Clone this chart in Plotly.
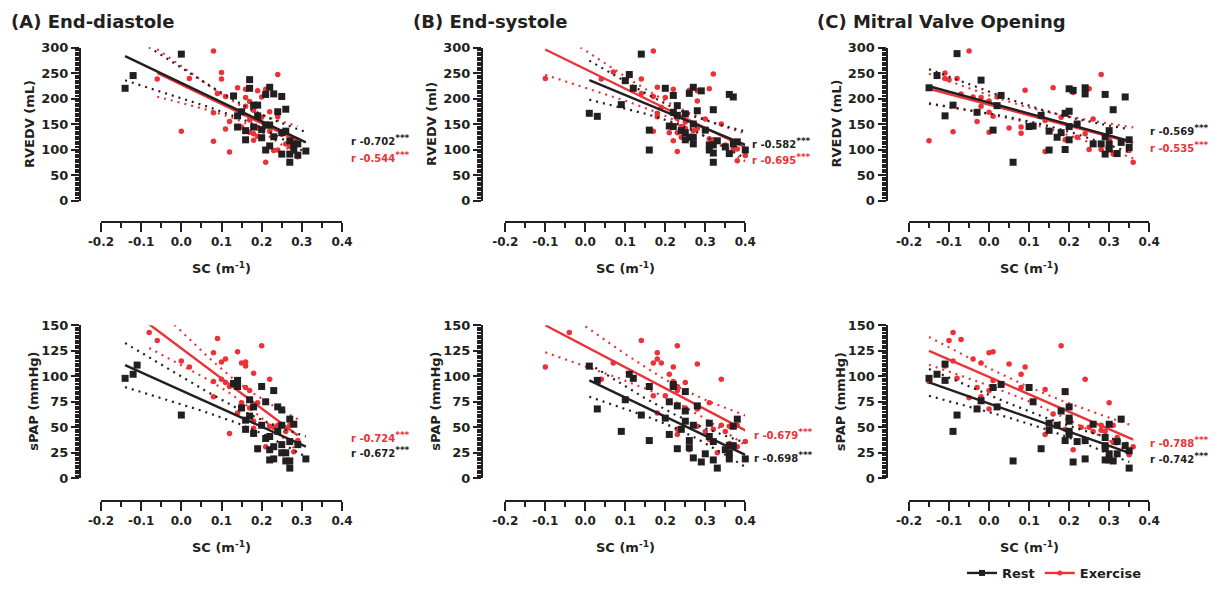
import numpy as np
import plotly.graph_objects as go

W, H = 1217, 589
PAD = 8                              # page body margin of the html page
FW, FH = W - 2 * PAD, H - 2 * PAD    # figure size that fits the window without overflow
BLACK = "#231f20"
RED = "#ec3237"
FONT = "DejaVu Sans"

# ---------------- data (x = SC in m^-1) ----------------
# (A) End-diastole
a_top_rest_x = [-0.14, -0.12, 0.0, 0.13, 0.17, 0.17, 0.22, 0.23, 0.21, 0.25, 0.18, 0.19, 0.26, 0.24, 0.19, 0.14, 0.15,
                0.14, 0.16, 0.18, 0.21, 0.20, 0.22, 0.25, 0.26, 0.16, 0.20, 0.23, 0.27, 0.29, 0.28, 0.22, 0.21, 0.25,
                0.27, 0.29, 0.31, 0.27, 0.28]
a_top_rest_y = [220, 245, 287, 205, 237, 220, 222, 209, 208, 204, 187, 187, 179, 174, 166, 166, 174,
                144, 137, 144, 148, 139, 148, 133, 136, 119, 123, 125, 117, 111, 99, 107, 99, 91,
                91, 89, 97, 75, 110]
a_top_ex_x = [0.08, -0.06, 0.02, 0.10, 0.10, 0.09, 0.14, 0.11, 0.16, 0.19, 0.21, 0.24, 0.16, 0.20, 0.17, 0.16, 0.08,
              0.18, 0.20, 0.22, 0.24, 0.17, 0.12, 0.11, 0.15, 0.17, 0.18, 0.19, 0.22, 0.18, 0.19, 0.25, 0.26, 0.23,
              0.24, 0.0, 0.08, 0.12, 0.21, 0.28, 0.29, 0.27]
a_top_ex_y = [293, 238, 239, 251, 238, 210, 221, 204, 218, 215, 218, 247, 202, 203, 194, 185, 172,
              177, 163, 174, 164, 158, 155, 140, 144, 134, 131, 143, 136, 118, 126, 130, 111, 98,
              99, 136, 116, 95, 75, 119, 86, 106]
a_bot_rest_x = [-0.14, -0.12, -0.11, 0.0, 0.14, 0.13, 0.14, 0.15, 0.20, 0.23, 0.21, 0.18, 0.17, 0.17, 0.16, 0.16,
                0.18, 0.19, 0.20, 0.24, 0.25, 0.24, 0.25, 0.27, 0.28, 0.22, 0.21, 0.22, 0.23, 0.25, 0.25, 0.26,
                0.27, 0.29, 0.22, 0.23, 0.26, 0.27, 0.27, 0.31]
a_bot_rest_y = [98, 102, 111, 62, 96, 93, 90, 69, 90, 86, 75, 70, 77, 61, 57, 48,
                44, 29, 52, 70, 67, 46, 52, 58, 53, 41, 39, 28, 31, 33, 25, 25,
                36, 33, 18, 19, 17, 17, 10, 19]
a_bot_ex_x = [-0.08, -0.06, 0.0, 0.02, 0.09, 0.08, 0.10, 0.11, 0.14, 0.15, 0.16, 0.16, 0.08, 0.10, 0.12, 0.11, 0.16,
              0.17, 0.18, 0.20, 0.22, 0.08, 0.14, 0.17, 0.18, 0.12, 0.21, 0.19, 0.23, 0.22, 0.24, 0.26, 0.27, 0.29,
              0.28, 0.18, 0.15, 0.19]
a_bot_ex_y = [143, 135, 115, 109, 137, 123, 114, 117, 124, 113, 114, 110, 95, 97, 90, 94, 89,
              86, 103, 130, 97, 80, 64, 69, 49, 44, 31, 28, 50, 51, 52, 46, 52, 37,
              26, 56, 74, 74]

# (B) End-systole
b_top_rest_x = [0.01, 0.03, 0.14, 0.11, 0.10, 0.12, 0.09, 0.16, 0.16, 0.20, 0.22, 0.23, 0.22, 0.23, 0.27, 0.29, 0.26,
                0.28, 0.25, 0.32, 0.36, 0.37, 0.21, 0.22, 0.24, 0.25, 0.27, 0.30, 0.25, 0.26, 0.27, 0.27, 0.31,
                0.33, 0.32, 0.31, 0.35, 0.32, 0.32, 0.36, 0.38, 0.37, 0.40]
b_top_rest_y = [171, 165, 287, 247, 235, 220, 188, 138, 99, 220, 206, 186, 173, 167, 222, 215, 210,
                176, 170, 178, 208, 203, 146, 145, 137, 133, 150, 138, 119, 124, 124, 111, 109,
                117, 109, 99, 105, 93, 75, 92, 115, 111, 99]
b_top_ex_x = [-0.10, 0.04, 0.07, 0.17, 0.14, 0.14, 0.17, 0.18, 0.20, 0.22, 0.26, 0.28, 0.31, 0.32, 0.28, 0.18, 0.18,
              0.17, 0.19, 0.22, 0.21, 0.23, 0.23, 0.24, 0.22, 0.25, 0.25, 0.24, 0.28, 0.30, 0.34, 0.31, 0.23, 0.32,
              0.35, 0.37, 0.38, 0.40, 0.38, 0.27]
b_top_ex_y = [239, 238, 252, 293, 238, 210, 204, 222, 202, 218, 216, 215, 219, 248, 195, 171, 164,
              136, 183, 170, 133, 161, 133, 145, 117, 154, 141, 124, 141, 160, 150, 121, 96, 119,
              109, 101, 101, 88, 78, 137]
b_bot_rest_x = [0.01, 0.03, 0.03, 0.11, 0.12, 0.10, 0.09, 0.14, 0.16, 0.16, 0.20, 0.21, 0.22, 0.22, 0.25, 0.23, 0.25,
                0.28, 0.21, 0.24, 0.25, 0.27, 0.26, 0.26, 0.23, 0.27, 0.29, 0.30, 0.31, 0.31, 0.32, 0.32, 0.33,
                0.35, 0.36, 0.36, 0.36, 0.37, 0.37, 0.38, 0.40]
b_bot_rest_y = [110, 96, 68, 102, 98, 77, 46, 62, 90, 37, 59, 75, 92, 90, 85, 71, 66,
                71, 43, 48, 56, 52, 37, 30, 29, 20, 16, 24, 54, 41, 36, 18, 10,
                28, 32, 25, 19, 51, 32, 58, 19]
b_bot_ex_x = [-0.10, -0.04, 0.04, 0.07, 0.14, 0.17, 0.18, 0.18, 0.19, 0.23, 0.22, 0.21, 0.17, 0.20, 0.22, 0.23, 0.23,
              0.25, 0.28, 0.34, 0.18, 0.25, 0.28, 0.31, 0.23, 0.23, 0.28, 0.30, 0.32, 0.34, 0.35, 0.36, 0.26, 0.31,
              0.33, 0.38, 0.38, 0.40, 0.36]
b_bot_ex_y = [109, 143, 97, 113, 135, 113, 123, 117, 113, 130, 109, 102, 81, 81, 95, 90, 86,
              94, 112, 97, 64, 69, 68, 74, 48, 43, 51, 46, 48, 52, 46, 51, 28, 38,
              25, 52, 31, 36, 34]

# (C) Mitral Valve Opening
c_top_rest_x = [-0.15, -0.13, -0.08, -0.11, -0.09, -0.02, -0.03, 0.02, 0.03, 0.01, 0.06, 0.10, 0.11, 0.13, 0.15, 0.15,
                0.17, 0.18, 0.19, 0.19, 0.20, 0.20, 0.21, 0.20, 0.20, 0.22, 0.24, 0.24, 0.26, 0.28, 0.29, 0.29,
                0.29, 0.30, 0.30, 0.30, 0.31, 0.32, 0.33, 0.34, 0.35, 0.35]
c_top_rest_y = [221, 245, 288, 166, 187, 236, 173, 186, 206, 138, 75, 145, 146, 167, 136, 99,
                124, 133, 100, 171, 175, 219, 216, 145, 119, 150, 221, 209, 111, 111, 208, 125,
                91, 137, 111, 101, 178, 92, 114, 203, 119, 104]
c_top_ex_x = [-0.15, -0.05, -0.11, -0.11, -0.10, -0.08, -0.07, -0.09, -0.04, -0.02, -0.02, -0.03, 0.0, 0.0, 0.01, 0.0,
              0.02, 0.05, 0.08, 0.08, 0.09, 0.16, 0.18, 0.14, 0.14, 0.19, 0.21, 0.22, 0.25, 0.24, 0.25, 0.26, 0.28,
              0.28, 0.30, 0.31, 0.32, 0.35, 0.36]
c_top_ex_y = [117, 293, 250, 239, 237, 239, 209, 135, 203, 202, 185, 155, 195, 173, 165, 134,
              203, 142, 144, 132, 216, 221, 163, 157, 96, 119, 212, 124, 219, 131, 100, 160, 247,
              100, 120, 91, 93, 98, 75]
c_bot_rest_x = [-0.15, -0.13, -0.11, -0.11, -0.08, -0.09, -0.03, -0.02, 0.01, 0.03, 0.02, 0.06, 0.10, 0.11, 0.13, 0.15,
                0.15, 0.17, 0.18, 0.19, 0.19, 0.20, 0.20, 0.20, 0.20, 0.20, 0.21, 0.22, 0.24, 0.24, 0.26, 0.29,
                0.29, 0.29, 0.29, 0.30, 0.30, 0.30, 0.31, 0.32, 0.32, 0.33, 0.34, 0.35, 0.35]
c_bot_rest_y = [98, 102, 112, 96, 62, 46, 68, 76, 89, 92, 70, 17, 89, 75, 29, 54,
                47, 52, 66, 85, 37, 70, 59, 56, 46, 43, 16, 36, 37, 19, 53, 40,
                32, 29, 18, 53, 24, 18, 17, 36, 24, 58, 32, 27, 10]
c_bot_ex_x = [-0.09, -0.10, -0.07, -0.11, -0.09, -0.04, -0.02, 0.0, 0.01, 0.05, 0.09, 0.08, 0.18, -0.08, -0.05, -0.03,
              -0.02, 0.0, 0.01, 0.0, 0.08, 0.14, 0.14, 0.16, 0.19, 0.21, 0.24, 0.23, 0.25, 0.26, 0.28, 0.28, 0.29,
              0.30, 0.31, 0.31, 0.32, 0.35, 0.36, -0.15]
c_bot_ex_y = [143, 135, 136, 110, 115, 117, 113, 123, 124, 112, 109, 102, 130, 98, 79, 89,
              80, 68, 96, 86, 89, 87, 43, 63, 48, 28, 97, 50, 50, 46, 52, 47, 46,
              74, 52, 35, 40, 23, 31, 95]

# fitted regression lines: (y at min SC, y at max SC), rest / exercise
a_top_fit = [(283, 114), (250, 117)]
b_top_fit = [(236, 109), (296, 104)]
c_top_fit = [(224, 117), (219, 113)]
a_bot_fit = [(111, 31), (151, 42)]
b_bot_fit = [(96, 23), (150, 47)]
c_bot_fit = [(94, 25), (125, 38)]

panel_titles = ["(A) End-diastole", "(B) End-systole", "(C) Mitral Valve Opening"]
top_ytitles = ["RVEDV (mL)", "RVEDV (ml)", "RVEDV (mL)"]
bot_ytitle = "sPAP (mmHg)"
top_r = [("-0.702", "-0.544"), ("-0.582", "-0.695"), ("-0.569", "-0.535")]
bot_r = [("-0.672", "-0.724"), ("-0.698", "-0.679"), ("-0.742", "-0.788")]
x_ticks = [-0.2, -0.1, 0.0, 0.1, 0.2, 0.3, 0.4]
x_ticktext = ["-0.2", "-0.1", "0.0", "0.1", "0.2", "0.3", "0.4"]

panels = [
    (0, 0, a_top_rest_x, a_top_rest_y, a_top_ex_x, a_top_ex_y, a_top_fit),
    (0, 1, b_top_rest_x, b_top_rest_y, b_top_ex_x, b_top_ex_y, b_top_fit),
    (0, 2, c_top_rest_x, c_top_rest_y, c_top_ex_x, c_top_ex_y, c_top_fit),
    (1, 0, a_bot_rest_x, a_bot_rest_y, a_bot_ex_x, a_bot_ex_y, a_bot_fit),
    (1, 1, b_bot_rest_x, b_bot_rest_y, b_bot_ex_x, b_bot_ex_y, b_bot_fit),
    (1, 2, c_bot_rest_x, c_bot_rest_y, c_bot_ex_x, c_bot_ex_y, c_bot_fit),
]

# ---------------- layout geometry (window pixels) ----------------
col_yline = [80, 482, 886.5]
col_xdom = [(101, 342), (505.3, 745.3), (909, 1149.2)]
row_ydom = [(200.5, 47.5), (478.3, 325.3)]   # (pixel of 0, pixel of max)
row_xline = [221.5, 500.5]
row_ymax = [300, 150]
row_dtick = [50, 25]
row_minor = [5, 2.5]


def px(x):
    return (x - PAD) / FW


def py(y):
    return 1 - (y - PAD) / FH


def fit_band(x, y, ends, n_pts=60):
    # regression line through the read end values, 95% confidence band from the scatter
    x = np.asarray(x, float)
    y = np.asarray(y, float)
    n = len(x)
    xmin, xmax = x.min(), x.max()
    b = (ends[1] - ends[0]) / (xmax - xmin)
    a = ends[0] - b * xmin
    xs = np.linspace(xmin, xmax, n_pts)
    yhat = a + b * xs
    resid = y - (a + b * x)
    s = np.sqrt(np.sum(resid ** 2) / (n - 2))
    sxx = np.sum((x - x.mean()) ** 2)
    half = 2.02 * s * np.sqrt(1 / n + (xs - x.mean()) ** 2 / sxx)
    return xs, yhat, yhat - half, yhat + half


fig = go.Figure()
annotations = []

for i, (row, col, rx, ry, ex, ey, fits) in enumerate(panels):
    k = i + 1
    xa, ya = ("x%d" % k, "y%d" % k)
    for gx, gy, ends, color, sym, size in [(ex, ey, fits[1], RED, "circle", 5.5),
                                           (rx, ry, fits[0], BLACK, "square", 7)]:
        xs, yhat, lo, hi = fit_band(gx, gy, ends)
        for band in (lo, hi):
            fig.add_trace(go.Scatter(x=xs, y=band, mode="lines", xaxis=xa, yaxis=ya, showlegend=False,
                                     line=dict(color=color, width=2.2, dash="2px,5px"), hoverinfo="skip"))
        fig.add_trace(go.Scatter(x=gx, y=gy, mode="markers", xaxis=xa, yaxis=ya, showlegend=False,
                                 cliponaxis=False, marker=dict(symbol=sym, size=size, color=color)))
        fig.add_trace(go.Scatter(x=xs, y=yhat, mode="lines", xaxis=xa, yaxis=ya, showlegend=False,
                                 line=dict(color=color, width=2.4)))

    x0, x1 = col_xdom[col]
    p0, p1 = row_ydom[row]
    axis_common = dict(showgrid=False, zeroline=False, showline=True, linewidth=2, linecolor=BLACK,
                       ticks="outside", tickwidth=2, tickcolor=BLACK, automargin=False)
    fig.update_layout(**{
        "xaxis%d" % k: dict(domain=[px(x0), px(x1)], range=[-0.2, 0.4], anchor="free",
                            position=py(row_xline[row]), tickvals=x_ticks, ticktext=x_ticktext, ticklen=9,
                            tickfont=dict(family=FONT, size=12, color=BLACK, weight="bold"),
                            minor=dict(tick0=-0.2, dtick=0.05, ticks="outside", ticklen=5, tickwidth=2,
                                       tickcolor=BLACK),
                            **axis_common),
        "yaxis%d" % k: dict(domain=[py(p0), py(p1)], range=[0, row_ymax[row]], anchor="free",
                            position=px(col_yline[col]), dtick=row_dtick[row], tick0=0, ticklen=8,
                            tickfont=dict(family=FONT, size=13, color=BLACK, weight="bold"),
                            minor=dict(dtick=row_minor[row], ticks="outside", ticklen=4, tickwidth=1.5,
                                       tickcolor=BLACK),
                            **axis_common),
    })

    # axis titles
    ytitle = top_ytitles[col] if row == 0 else bot_ytitle
    yoff = 51 if row == 0 else 46
    annotations.append(dict(text=ytitle, xref="paper", yref="paper", x=px(col_yline[col] - yoff),
                            y=py((p0 + p1) / 2), textangle=-90, showarrow=False, xanchor="center",
                            yanchor="middle", font=dict(family=FONT, size=13, color=BLACK, weight="bold")))
    annotations.append(dict(text="SC (m<sup>-1</sup>)", xref="paper", yref="paper", x=px((x0 + x1) / 2),
                            y=py(row_xline[row] + 46), showarrow=False, xanchor="center", yanchor="middle",
                            font=dict(family=FONT, size=13, color=BLACK, weight="bold")))

# panel titles
for col, t in enumerate(panel_titles):
    annotations.append(dict(text=t, xref="paper", yref="paper", x=px([9, 411, 815][col]), y=py(21),
                            showarrow=False, xanchor="left", yanchor="middle",
                            font=dict(family=FONT, size=18, color=BLACK, weight="bold")))

# correlation labels
r_pos = [
    [(349, 140, 157), (750, 143, 159), (1148, 130, 147)],
    [(349, 452, 437), (752, 457, 434), (1148, 458, 442)],
]
for row, rs in enumerate([top_r, bot_r]):
    for col, (r_rest, r_ex) in enumerate(rs):
        x, y_rest, y_ex = r_pos[row][col]
        for val, yy, color in [(r_rest, y_rest, BLACK), (r_ex, y_ex, RED)]:
            annotations.append(dict(text="r %s<sup><span style='font-size:9px'>***</span></sup>" % val,
                                    xref="paper", yref="paper", x=px(x),
                                    y=py(yy), showarrow=False, xanchor="left", yanchor="middle",
                                    font=dict(family=FONT, size=10, color=color, weight="bold")))

# legend entries
fig.add_trace(go.Scatter(x=[None], y=[None], mode="lines+markers", name="Rest", legendrank=1,
                         line=dict(color=BLACK, width=2.4), marker=dict(symbol="square", size=6, color=BLACK)))
fig.add_trace(go.Scatter(x=[None], y=[None], mode="lines+markers", name="Exercise", legendrank=2,
                         line=dict(color=RED, width=2.4), marker=dict(symbol="circle", size=5, color=RED)))

fig.update_layout(
    width=FW, height=FH,
    margin=dict(l=0, r=0, t=0, b=0, autoexpand=False),
    paper_bgcolor="white", plot_bgcolor="white",
    font=dict(family=FONT, color=BLACK),
    annotations=annotations,
    showlegend=True,
    legend=dict(orientation="h", x=px(962), y=py(573), xanchor="left", yanchor="middle",
                font=dict(family=FONT, size=13, color=BLACK, weight="bold"), bgcolor="rgba(0,0,0,0)",
                itemwidth=30),
)

fig.write_html("out.html")
